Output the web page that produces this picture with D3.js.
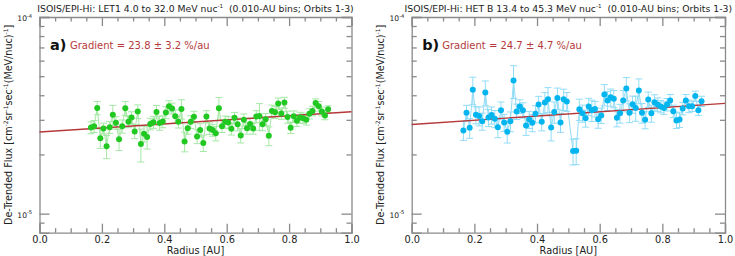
<!DOCTYPE html>
<meta charset="utf-8">
<style>
    body { margin: 0; background: #fff; }
    text { font-family: 'DejaVu Sans', sans-serif; fill: #222; }
    .axis path, .axis line { stroke: #8a8a8a; stroke-width: 1.3px; }
</style>
<body>
<svg id="chart" width="735" height="256"></svg>
<script src="https://cdn.jsdelivr.net/npm/d3@7/dist/d3.min.js"></script>
<script>
// bin centres [AU]
var radiusA = [0.165,0.175,0.185,0.195,0.205,0.215,0.225,0.235,0.245,0.255,
    0.265,0.275,0.285,0.295,0.305,0.315,0.325,0.335,0.345,0.355,
    0.365,0.375,0.385,0.395,0.405,0.415,0.425,0.435,0.445,0.455,
    0.465,0.475,0.485,0.495,0.505,0.515,0.525,0.535,0.545,0.555,
    0.565,0.575,0.585,0.595,0.605,0.615,0.625,0.635,0.645,0.655,
    0.665,0.675,0.685,0.695,0.705,0.715,0.725,0.735,0.745,0.755,
    0.765,0.775,0.785,0.795,0.805,0.815,0.825,0.835,0.845,0.855,
    0.865,0.875,0.885,0.895,0.905,0.915,0.925];
// de-trended flux, units of 1e-5
var fluxA = [2.74,2.78,3.45,2.42,2.71,2.20,2.75,3.18,2.90,2.39,
    2.78,3.44,2.93,3.08,2.62,3.31,2.26,2.55,2.45,2.86,
    2.92,3.29,2.89,2.94,3.27,3.52,3.43,3.13,2.93,3.41,
    2.33,2.72,2.93,3.11,2.47,2.66,2.29,3.12,2.71,2.66,
    2.56,3.44,2.78,2.93,2.91,2.70,3.07,2.85,2.50,3.00,
    2.72,2.86,2.71,3.12,3.14,2.85,3.02,2.49,3.33,3.28,
    3.63,3.23,3.67,3.10,2.73,3.13,2.97,3.08,3.06,3.00,
    3.22,3.33,3.65,3.52,3.31,3.16,3.40];
// relative error [%]
var errA = [7,7,7.7,11.3,6.4,13.5,7,11.7,7.3,12.4,
    7.7,8.1,6.6,7,8.1,7.9,19,9.2,13,6.8,
    7,7.9,8.1,7,7,6.6,6.4,7.7,7,11.3,
    11.5,6.8,7.5,6.6,8.1,7.7,9.6,7,6.8,7,
    8.5,13.3,7,7,7,7,6.6,7.5,8.5,7,
    6.8,7,6.4,7,15.5,7.5,7,11,7,7,
    6.6,6.6,6.4,7,6.4,6.4,6.6,6.4,6,6,
    6,5.6,5,5.6,5.2,5,4];

var radiusB = [0.165,0.175,0.185,0.195,0.205,0.215,0.225,0.235,0.245,0.255,
    0.265,0.275,0.285,0.295,0.305,0.315,0.325,0.335,0.345,0.355,
    0.365,0.375,0.385,0.395,0.405,0.415,0.425,0.435,0.445,0.455,
    0.465,0.475,0.485,0.495,
    0.515,0.525,0.535,0.545,0.555,0.565,0.575,0.585,0.595,0.605,
    0.615,0.625,0.635,0.645,0.655,0.665,0.675,0.685,0.695,0.705,
    0.715,0.725,0.735,0.745,0.755,0.765,0.775,0.785,0.795,0.805,
    0.815,0.825,0.835,0.845,0.855,0.865,0.875,0.885,0.895,0.905,0.915,0.925];
var fluxB = [2.65,3.26,2.73,4.26,3.18,3.14,2.95,4.13,3.08,3.17,
    3.04,2.75,3.36,2.91,2.61,2.95,4.75,3.31,3.51,3.36,
    2.81,3.01,2.90,3.22,3.59,2.93,3.67,3.82,2.74,3.29,
    3.87,2.91,3.82,3.72,
    2.08,2.09,3.40,3.24,3.06,3.51,3.36,3.41,3.02,3.16,
    4.03,3.76,3.91,3.84,3.07,3.24,3.76,4.33,3.26,3.60,
    3.45,4.23,3.26,3.00,3.81,3.24,3.69,3.59,3.51,3.45,
    3.59,3.76,3.32,2.98,3.01,3.43,3.76,3.52,3.52,3.96,3.36,3.73];
var errB = [11,9,11.5,16,10,11,10,14.5,10,10,
    10,11.5,10,10,12.4,11.5,19,9,8,9,
    11,10,10,10,10,10,12.4,14.5,14.5,12.4,
    12.4,11,12.4,11,
    15,15,12.4,10,10,10,12.4,9,10,9,
    12.4,11,10,10,10,11,12.4,13.7,11,10,
    14.5,14.5,11.5,10,9,10,9,8,7.3,7.3,
    7.3,7.3,7.3,9,9,7.3,7.3,7.3,6,6,6,6];

// exponential fit: flux at 0 AU (1e-5) and gradient [%/au] with its error
var fitA = [2.60, 23.8, 3.2];
var fitB = [2.84, 24.7, 4.7];

var xMajor = [0, 0.2, 0.4, 0.6, 0.8, 1.0];
var yMajor = [1e-5, 1e-4];
var titles = ["ISOIS/EPI-Hi: LET1 4.0 to 32.0 MeV nuc", "ISOIS/EPI-Hi: HET B 13.4 to 45.3 MeV nuc"];
var subTitle = "  (0.010-AU bins; Orbits 1-3)";

var svg = d3.select("#chart");
var top0 = 17, bot0 = 232.7;

// text with raised parts; shift back down on the next normal piece
function supText(sel, parts, supSize, rise) {
    var up = false;
    parts.forEach(function (p) {
        var t = sel.append("tspan").text(p[0]);
        if (p[1]) {
            t.attr("dy", -rise).style("font-size", supSize + "px");
            up = true;
        } else if (up) {
            t.attr("dy", rise);
            up = false;
        }
    });
}

function drawPanel(o) {
    var x = d3.scaleLinear().domain([0, 1]).range([o.left, o.right]);
    var y = d3.scaleLog().domain([8e-6, 1e-4]).range([bot0, top0]);
    var g = svg.append("g");

    var xMinor = d3.range(0.05, 1, 0.05).filter(function (v) { return Math.abs(v * 5 - Math.round(v * 5)) > 1e-6; });
    var yMinor = [9e-6, 2e-5, 3e-5, 4e-5, 5e-5, 6e-5, 7e-5, 8e-5, 9e-5];

    // ticks on all four sides, pointing inward
    g.append("g").attr("class", "axis").attr("transform", "translate(0," + bot0 + ")")
        .call(d3.axisTop(x).tickValues(xMajor).tickSize(9).tickFormat(""));
    g.append("g").attr("class", "axis").attr("transform", "translate(0," + bot0 + ")")
        .call(d3.axisTop(x).tickValues(xMinor).tickSize(4.5).tickFormat("")).select(".domain").remove();
    g.append("g").attr("class", "axis").attr("transform", "translate(0," + top0 + ")")
        .call(d3.axisBottom(x).tickValues(xMajor).tickSize(9).tickFormat(""));
    g.append("g").attr("class", "axis").attr("transform", "translate(0," + top0 + ")")
        .call(d3.axisBottom(x).tickValues(xMinor).tickSize(4.5).tickFormat("")).select(".domain").remove();
    g.append("g").attr("class", "axis").attr("transform", "translate(" + o.left + ",0)")
        .call(d3.axisRight(y).tickValues(yMajor).tickSize(10).tickFormat(""));
    g.append("g").attr("class", "axis").attr("transform", "translate(" + o.left + ",0)")
        .call(d3.axisRight(y).tickValues(yMinor).tickSize(5).tickFormat("")).select(".domain").remove();
    g.append("g").attr("class", "axis").attr("transform", "translate(" + o.right + ",0)")
        .call(d3.axisLeft(y).tickValues(yMajor).tickSize(10).tickFormat(""));
    g.append("g").attr("class", "axis").attr("transform", "translate(" + o.right + ",0)")
        .call(d3.axisLeft(y).tickValues(yMinor).tickSize(5).tickFormat("")).select(".domain").remove();

    // x tick labels
    var xl = g.append("g").attr("transform", "translate(0," + bot0 + ")")
        .call(d3.axisBottom(x).tickValues(xMajor).tickSize(0).tickPadding(3.5).tickFormat(d3.format(".1f")));
    xl.select(".domain").remove();
    xl.selectAll("text").style("font-size", "9.8px").style("font-family", "'DejaVu Sans', sans-serif").style("fill", "#222");

    // y decade labels
    yMajor.forEach(function (v) {
        var t = g.append("text").attr("x", o.left - 22.2).attr("y", y(v) + 4).style("font-size", "7.6px");
        supText(t, [["10", false], [v === 1e-4 ? "-4" : "-5", true]], 5.2, 3.5);
    });

    g.append("text").attr("x", (o.left + o.right) / 2).attr("y", 253.5)
        .attr("text-anchor", "middle").style("font-size", "9.8px").text("Radius [AU]");

    var yl = g.append("text").attr("text-anchor", "middle").style("font-size", "9.6px")
        .attr("transform", "translate(" + o.ylab + "," + (top0 + bot0) / 2 + ") rotate(-90)");
    supText(yl, [["De-Trended Flux [cm", false], ["-2", true], ["sr", false], ["-1", true],
        ["sec", false], ["-1", true], ["(MeV/nuc)", false], ["-1", true], ["]", false]], 6, 3.8);

    var tt = g.append("text").attr("x", (o.left + o.right) / 2).attr("y", 11.5)
        .attr("text-anchor", "middle").style("font-size", "9.3px").style("white-space", "pre");
    supText(tt, [[o.title, false], ["-1", true], [subTitle, false]], 5.6, 3.4);

    g.append("text").attr("x", o.left + 10.5).attr("y", 49.5).style("font-size", "14.5px")
        .style("font-weight", "bold").style("fill", "#111").text(o.tag);
    g.append("text").attr("x", o.left + 30.5).attr("y", 48.5).style("font-size", "10px")
        .style("fill", "#b5393a")
        .text("Gradient = " + o.fit[1].toFixed(1) + " \u00b1 " + o.fit[2].toFixed(1) + " %/au");

    var pts = o.r.map(function (r, i) {
        var f = o.f[i] * 1e-5, e = f * o.e[i] / 100;
        return { r: r, f: f, lo: f - e, hi: f + e };
    });

    var bars = g.append("g").attr("stroke", o.light).attr("stroke-width", 1);
    bars.selectAll(".eb").data(pts).enter().append("line")
        .attr("x1", function (d) { return x(d.r); }).attr("x2", function (d) { return x(d.r); })
        .attr("y1", function (d) { return y(d.lo); }).attr("y2", function (d) { return y(d.hi); });
    bars.selectAll(".cap1").data(pts).enter().append("line")
        .attr("x1", function (d) { return x(d.r) - 3.5; }).attr("x2", function (d) { return x(d.r) + 3.5; })
        .attr("y1", function (d) { return y(d.hi); }).attr("y2", function (d) { return y(d.hi); });
    bars.selectAll(".cap2").data(pts).enter().append("line")
        .attr("x1", function (d) { return x(d.r) - 3.5; }).attr("x2", function (d) { return x(d.r) + 3.5; })
        .attr("y1", function (d) { return y(d.lo); }).attr("y2", function (d) { return y(d.lo); });

    g.append("path").datum(pts).attr("fill", "none").attr("stroke", o.light).attr("stroke-width", 1)
        .attr("d", d3.line().x(function (d) { return x(d.r); }).y(function (d) { return y(d.f); }));

    var fitLine = [0, 1].map(function (r) { return { r: r, f: o.fit[0] * 1e-5 * Math.exp(o.fit[1] / 100 * r) }; });
    g.append("path").datum(fitLine).attr("fill", "none").attr("stroke", "#b5393a").attr("stroke-width", 1.4)
        .attr("d", d3.line().x(function (d) { return x(d.r); }).y(function (d) { return y(d.f); }));

    g.selectAll(".pt").data(pts).enter().append("circle")
        .attr("cx", function (d) { return x(d.r); }).attr("cy", function (d) { return y(d.f); })
        .attr("r", 3).attr("fill", o.dark);
}

drawPanel({ left: 39.5, right: 351.5, ylab: 12, title: titles[0], tag: "a)", fit: fitA,
    r: radiusA, f: fluxA, e: errA, dark: "#22c822", light: "#a6e8a6" });
drawPanel({ left: 411.7, right: 725, ylab: 383.5, title: titles[1], tag: "b)", fit: fitB,
    r: radiusB, f: fluxB, e: errB, dark: "#03b5ef", light: "#92dcf7" });
</script>
</body>
